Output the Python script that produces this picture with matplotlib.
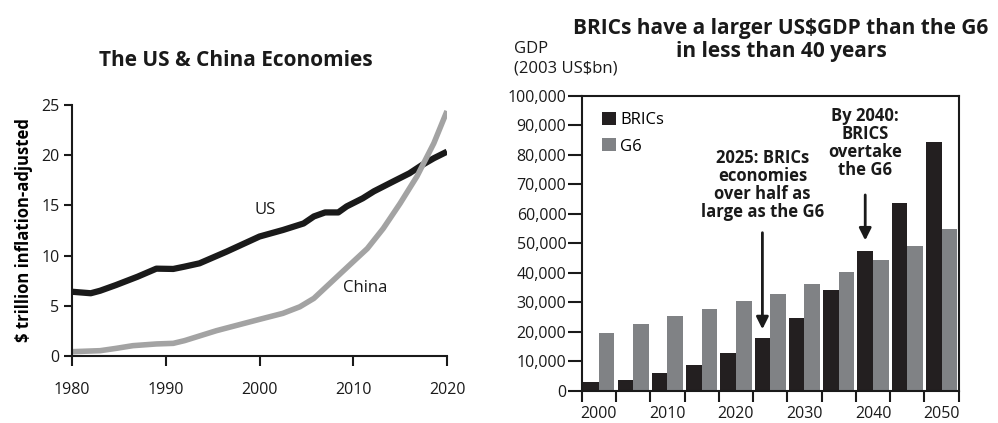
import matplotlib
matplotlib.use("Agg")
import matplotlib.pyplot as plt
import numpy as np

plt.rcParams['font.family'] = ['Open Sans', 'DejaVu Sans']

# ---- Left chart data ----
us_years = [1980, 1982, 1983, 1984.7, 1987, 1989, 1990.8, 1992, 1993.6, 1996.5, 2000, 2002.5,
            2004.7, 2005.8, 2007, 2008.4, 2009.3, 2011, 2012.2, 2014.3, 2016, 2017.3, 2018.6, 2020]
us_values = [6.4, 6.25, 6.5, 7.07, 7.9, 8.7, 8.67, 8.9, 9.23, 10.4, 11.9, 12.55,
             13.2, 13.9, 14.3, 14.3, 14.9, 15.7, 16.4, 17.4, 18.2, 19.0, 19.7, 20.35]
cn_years = [1980, 1983, 1984.7, 1986.5, 1989, 1990.8, 1992, 1995.4, 2000, 2002.5, 2004.3,
            2005.8, 2007.9, 2010, 2011.5, 2013.2, 2015, 2016.8, 2018.6, 2020]
cn_values = [0.43, 0.53, 0.76, 1.03, 1.2, 1.26, 1.53, 2.52, 3.65, 4.25, 4.9,
             5.74, 7.57, 9.4, 10.7, 12.7, 15.2, 17.9, 21.2, 24.4]

# ---- Right chart data ----
bar_years = [2000, 2005, 2010, 2015, 2020, 2025, 2030, 2035, 2040, 2045, 2050]
brics = [2900, 3600, 6000, 8700, 12800, 17900, 24600, 34100, 47400, 63600, 84300]
g6 = [19600, 22600, 25300, 27700, 30400, 32800, 36200, 40200, 44300, 49000, 54800]

INK = '#1a1a1a'
TICK_FS = 11.5
TEXT_FS = 12
TITLE_FS = 15

fig = plt.figure(figsize=(9.98, 4.23), dpi=100)

# ---------------- Left chart ----------------
ax1 = fig.add_axes([72/998, 67/423, 375/998, 251/423])
ax1.plot(us_years, us_values, color=INK, lw=4.5, solid_capstyle='butt')
ax1.plot(cn_years, cn_values, color='#a3a3a3', lw=4, solid_capstyle='butt')
ax1.set_xlim(1980, 2020)
ax1.set_ylim(0, 25)
ax1.set_xticks([1980, 1990, 2000, 2010, 2020])
ax1.set_yticks([0, 5, 10, 15, 20, 25])
for s in ['top', 'right']:
    ax1.spines[s].set_visible(False)
for s in ['left', 'bottom']:
    ax1.spines[s].set_linewidth(1.5)
    ax1.spines[s].set_color(INK)
ax1.tick_params(axis='x', direction='out', length=7, width=1.5, pad=12, labelsize=TICK_FS, colors=INK)
ax1.tick_params(axis='y', direction='out', length=6, width=1.5, pad=3, labelsize=TICK_FS, colors=INK)
ax1.set_ylabel('$ trillion inflation-adjusted', fontsize=TEXT_FS, fontweight='bold', labelpad=6)
ax1.text(2000.6, 14.5, 'US', fontsize=TEXT_FS, ha='center', va='center', color=INK)
ax1.text(2011.3, 6.8, 'China', fontsize=TEXT_FS, ha='center', va='center', color=INK)
fig.text(236/998, 1 - 60/423, 'The US & China Economies', fontsize=TITLE_FS, fontweight='bold',
         ha='center', va='center', color=INK)

# ---------------- Right chart ----------------
ax2 = fig.add_axes([581.7/998, 32.3/423, 377/998, 295/423])
x = np.arange(len(bar_years))
w = 0.455
ax2.bar(x - w/2, brics, width=w, color='#231f20', label='BRICs')
ax2.bar(x + w/2, g6, width=w, color='#808285', label='G6')
ax2.set_xlim(-0.5, len(bar_years) - 0.5)
ax2.set_ylim(0, 100000)
ax2.set_yticks(np.arange(0, 100001, 10000))
ax2.set_yticklabels([f'{v:,}' for v in range(0, 100001, 10000)])
ax2.set_xticks(np.arange(-0.5, len(bar_years), 1.0))
ax2.set_xticklabels([])
ax2.set_xticks(x[::2], minor=True)
ax2.set_xticklabels([str(y) for y in bar_years[::2]], minor=True)
ax2.tick_params(axis='x', which='major', direction='out', length=8, width=1.5, colors=INK)
ax2.tick_params(axis='x', which='minor', length=0, pad=11, labelsize=TICK_FS, colors=INK)
ax2.tick_params(axis='y', direction='out', length=10, width=1.5, pad=1, labelsize=TICK_FS, colors=INK)
for s in ax2.spines.values():
    s.set_linewidth(1.5)
    s.set_color(INK)

ax2.legend(loc='upper left', bbox_to_anchor=(0.055, 0.945), frameon=False, fontsize=TEXT_FS,
           handlelength=0.8, handleheight=0.8, handletextpad=0.25, labelspacing=0.62,
           borderpad=0, borderaxespad=0)

ax2.annotate('', xy=(5 - w/2, 19900), xytext=(5 - w/2, 54500),
             arrowprops=dict(arrowstyle='-|>', color=INK, lw=2, mutation_scale=18))
ax2.text(5 - w/2, 69700, '2025: BRICs\neconomies\nover half as\nlarge as the G6', ha='center',
         va='center', fontsize=TEXT_FS, fontweight='bold', color=INK, linespacing=1.0)
ax2.annotate('', xy=(8 - w/2, 50000), xytext=(8 - w/2, 67300),
             arrowprops=dict(arrowstyle='-|>', color=INK, lw=2, mutation_scale=18))
ax2.text(8 - w/2, 84000, 'By 2040:\nBRICS\novertake\nthe G6', ha='center',
         va='center', fontsize=TEXT_FS, fontweight='bold', color=INK, linespacing=1.0)

fig.text(781/998, 1 - 33.5/423, 'BRICs have a larger US$GDP than the G6',
         fontsize=TITLE_FS, fontweight='bold', ha='center', va='baseline', color=INK)
fig.text(781/998, 1 - 57.5/423, 'in less than 40 years',
         fontsize=TITLE_FS, fontweight='bold', ha='center', va='baseline', color=INK)
fig.text(514/998, 1 - 59/423, 'GDP\n(2003 US$bn)', fontsize=TEXT_FS, ha='left', va='center',
         color=INK, linespacing=1.3)

fig.savefig('out.png', dpi=100)
